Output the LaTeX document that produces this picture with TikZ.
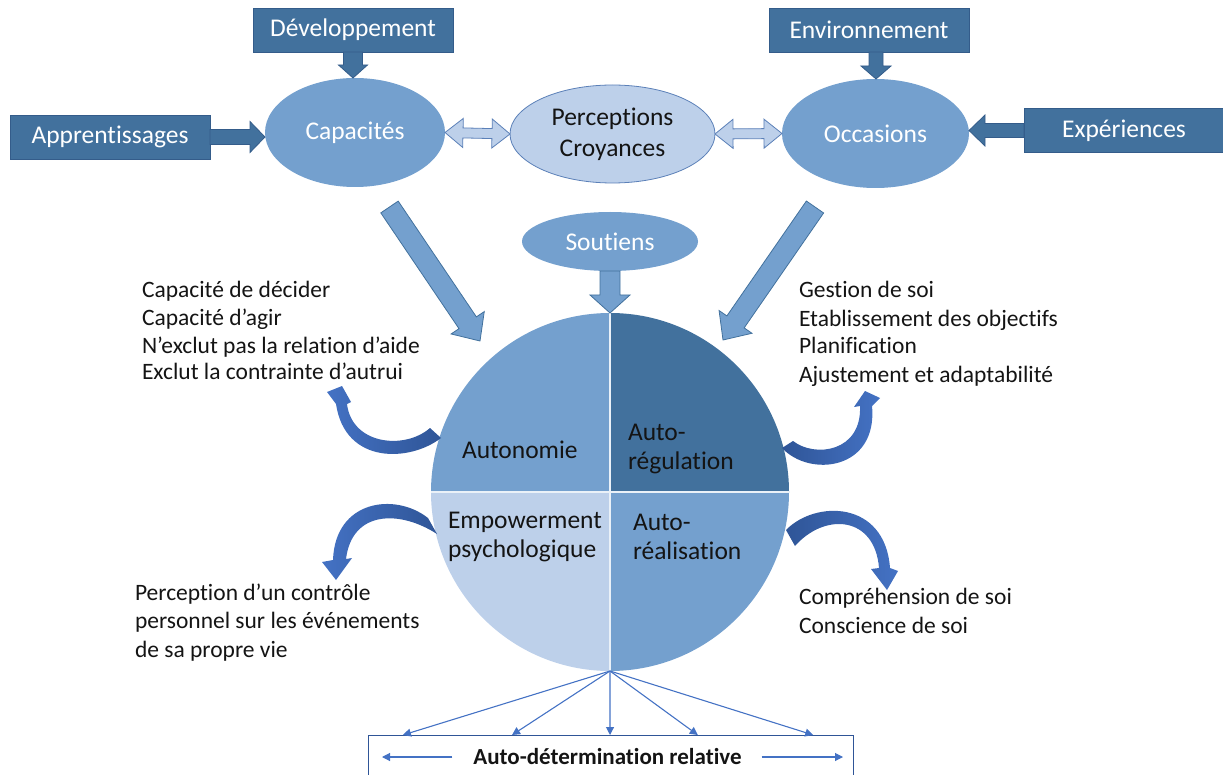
\documentclass[tikz,border=0pt]{standalone}
\usepackage{fontspec}
\setmainfont{Carlito}[RawFeature={-liga}]
\usetikzlibrary{calc,arrows.meta,shapes.geometric}
\definecolor{dbox}{RGB}{66,113,157}
\definecolor{dboxb}{RGB}{52,92,138}
\definecolor{mid}{RGB}{116,160,206}
\definecolor{lite}{RGB}{189,208,234}
\definecolor{liteb}{RGB}{91,128,184}
\definecolor{adark}{RGB}{47,85,151}
\definecolor{alite}{RGB}{68,114,196}
\definecolor{txt}{RGB}{20,20,20}
\newcommand\fbig{\fontsize{25.5}{30}\selectfont}
\newcommand\fside{\fontsize{23.5}{28}\selectfont}
\newcommand\fbold{\fontsize{23}{28}\selectfont\bfseries}
% block arrow: style, from, to, shaft half width, head half width, head length
\newcommand\blockarrow[6]{%
  \coordinate (baq) at ($(#3)!#6pt!(#2)$);
  \filldraw[#1] ($(#2)!#4pt!90:(#3)$) -- ($(baq)!#4pt!90:(#3)$) -- ($(baq)!#5pt!90:(#3)$) -- (#3)
    -- ($(baq)!#5pt!-90:(#3)$) -- ($(baq)!#4pt!-90:(#3)$) -- ($(#2)!#4pt!-90:(#3)$) -- cycle;}
% double block arrow
\newcommand\dblarrow[6]{%
  \coordinate (daq) at ($(#3)!#6pt!(#2)$);
  \coordinate (dap) at ($(#2)!#6pt!(#3)$);
  \filldraw[#1] (#2) -- ($(dap)!#5pt!90:(#3)$) -- ($(dap)!#4pt!90:(#3)$) -- ($(daq)!#4pt!90:(#3)$)
    -- ($(daq)!#5pt!90:(#3)$) -- (#3) -- ($(daq)!#5pt!-90:(#3)$) -- ($(daq)!#4pt!-90:(#3)$)
    -- ($(dap)!#4pt!-90:(#3)$) -- ($(dap)!#5pt!-90:(#3)$) -- cycle;}
\begin{document}
\begin{tikzpicture}[x=1pt,y=-1pt,
  every node/.style={inner sep=0pt, outer sep=0pt},
  topbox/.style={rectangle, fill=dbox, draw=dboxb, line width=0.8pt, minimum width=200, minimum height=44, text=white, font=\fbig},
  midell/.style={ellipse, fill=mid, text=white, font=\fbig},
  ctext/.style={anchor=base west, text=txt, font=\fbig},
  stext/.style={anchor=base west, text=txt, font=\fside},
  darkarrow/.style={fill=dbox, draw=dboxb, line width=0.8pt},
  midarrow/.style={fill=mid, draw=dbox, line width=0.8pt},
  litearrow/.style={fill=lite, draw=liteb, line width=0.8pt},
  fan/.style={draw=alite, line width=1.1pt, -{Triangle[width=8pt,length=8pt]}},
  headleft/.style={left color=alite, right color=adark},
  headright/.style={left color=adark, right color=alite}]
\useasboundingbox (0,0) rectangle (1223,775);

% top boxes
\node[topbox] (dev) at (353,30) {Développement};
\node[topbox] (app) at (110,137) {Apprentissages};
\node[topbox] (env) at (869,30) {Environnement};
\node[topbox] (exp) at (1124,130.5) {Expériences};

% ellipses
\node[midell, minimum width=180, minimum height=109] (cap) at (355,132.5) {Capacités};
\node[midell, minimum width=187, minimum height=109] (occ) at (875.5,133.5) {Occasions};
\node[ellipse, fill=lite, draw=liteb, line width=0.8pt, minimum width=205, minimum height=98,
      text=txt, font=\fbig, align=center] (perc) at (612.5,134) {Perceptions\\[1pt]Croyances};
\node[midell, minimum width=176, minimum height=59] (sout) at (610,241.5) {Soutiens};

% arrows into ellipses
\coordinate (capN) at (dev.south |- cap.north);
\blockarrow{darkarrow}{dev.south}{capN}{9.5}{14.5}{13}
\coordinate (envS) at ($(env.south)+(7,0)$);
\coordinate (occN) at (envS |- occ.north);
\blockarrow{darkarrow}{envS}{occN}{7}{15}{13}
\coordinate (capW) at (app.east -| cap.west);
\blockarrow{darkarrow}{app.east}{capW}{7.5}{15.5}{15}
\coordinate (occE) at (exp.west -| occ.east);
\blockarrow{darkarrow}{exp.west}{occE}{7}{15.5}{16}
\dblarrow{litearrow}{cap.east}{perc.west}{5}{14.5}{18}
\dblarrow{litearrow}{perc.east}{occ.west}{5}{14.5}{18}

% central circle
\node[circle, minimum size=358] (core) at (610,492) {};
\fill[mid] (core.center) -- (core.west) arc[start angle=180, end angle=270, radius=179] -- cycle;
\fill[dbox] (core.center) -- (core.north) arc[start angle=270, end angle=360, radius=179] -- cycle;
\fill[mid] (core.center) -- (core.east) arc[start angle=0, end angle=90, radius=179] -- cycle;
\fill[lite] (core.center) -- (core.south) arc[start angle=90, end angle=180, radius=179] -- cycle;
\draw[white!85!mid, line width=1.5pt] (core.north) -- (core.south) (core.west) -- (core.east);

% arrows into circle
\blockarrow{midarrow}{sout.south}{core.north}{10}{20}{18}
\coordinate (capT) at (389.5,207);
\coordinate (coreTL) at (480,341);
\blockarrow{midarrow}{capT}{coreTL}{10.5}{20}{22}
\coordinate (occT) at (815,207);
\coordinate (coreTR) at (723,340);
\blockarrow{midarrow}{occT}{coreTR}{10.5}{20}{22}

% circle texts
\node[ctext] (auton) at (462,458) {Autonomie};
\node[ctext] (areg1) at (628,440) {Auto-};
\node[ctext] (areg2) at (628,469) {régulation};
\node[ctext] (emp1) at (448,528) {Empowerment};
\node[ctext] (emp2) at (448,557) {psychologique};
\node[ctext] (area1) at (633,530) {Auto-};
\node[ctext] (area2) at (633,559) {réalisation};

% side texts
\node[stext] (l1) at (142,298) {Capacité de décider};
\node[stext] (l2) at (142,326) {Capacité d’agir};
\node[stext] (l3) at (142,353) {N’exclut pas la relation d’aide};
\node[stext] (l4) at (142,380) {Exclut la contrainte d’autrui};
\node[stext] (r1) at (799,298) {Gestion de soi};
\node[stext] (r2) at (799,327) {Etablissement des objectifs};
\node[stext] (r3) at (799,354) {Planification};
\node[stext] (r4) at (799,382) {Ajustement et adaptabilité};
\node[stext] (bl1) at (135,600) {Perception d’un contrôle};
\node[stext] (bl2) at (135,628) {personnel sur les événements};
\node[stext] (bl3) at (135,657) {de sa propre vie};
\node[stext] (br1) at (799,604) {Compréhension de soi};
\node[stext] (br2) at (799,633) {Conscience de soi};

% curved arrows
\shade[headleft] (441,438) .. controls (410,462) and (345,465) .. (336,404) -- (327,392) -- (342,386)
  -- (351,402) -- (347,404) .. controls (352,445) and (405,450) .. (430,428) -- cycle;
\shade[headright] (782,448) .. controls (810,478) and (878,470) .. (872,406) -- (880,398) -- (865,391)
  -- (854,407) -- (860,406) .. controls (862,452) and (815,458) .. (793,441) -- cycle;
\shade[headleft] (428,518) .. controls (395,492) and (335,500) .. (333,560) -- (322,562) -- (336,580)
  -- (352,558) -- (346,559) .. controls (352,510) and (400,510) .. (437,534) -- cycle;
\shade[headright] (786,530) .. controls (815,500) and (885,500) .. (890,568) -- (898,571) -- (887,590)
  -- (871,569) -- (879,568) .. controls (875,516) and (825,512) .. (795,546) -- cycle;

% bottom box
\node[rectangle, draw=adark, line width=1pt, minimum width=485, minimum height=65] (adbox) at (610.5,767.5) {};
\node[text=txt, font=\fbold] (adtext) at (607.5,757) {Auto-détermination relative};
\foreach \f/\n in {0.072/a,0.297/b,0.499/c,0.680/d,0.918/e}
  \coordinate (fan\n) at ($(adbox.north west)!\f!(adbox.north east)$);
\foreach \n in {a,b,c,d,e}
  \draw[fan] (core.south) -- (fan\n);
\coordinate (lin1) at ($(adtext.west)+(-21,0)$);
\coordinate (lin2) at ($(adbox.west |- adtext.west)+(14,0)$);
\coordinate (rin1) at ($(adtext.east)+(20,0)$);
\coordinate (rin2) at ($(adbox.east |- adtext.east)+(-10,0)$);
\draw[fan] (lin1) -- (lin2);
\draw[fan] (rin1) -- (rin2);
\end{tikzpicture}
\end{document}
